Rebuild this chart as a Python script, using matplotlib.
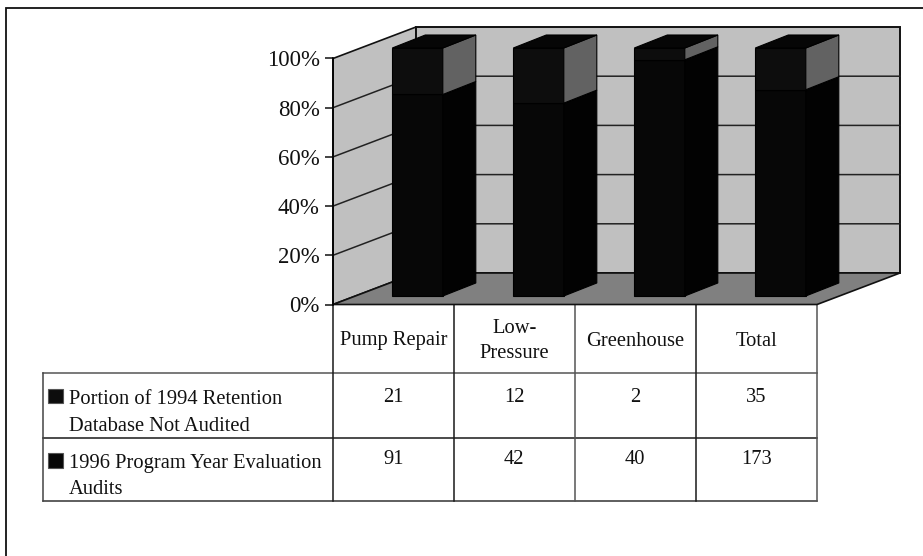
import matplotlib
matplotlib.use("Agg")
import matplotlib.pyplot as plt
from matplotlib.patches import Polygon, Rectangle

plt.rcParams['font.family'] = ['Liberation Serif', 'DejaVu Serif']

categories = ["Pump Repair", "Low-\nPressure", "Greenhouse", "Total"]
series_names = ["Portion of 1994 Retention\nDatabase Not Audited",
                "1996 Program Year Evaluation\nAudits"]
not_audited = [21, 12, 2, 35]
evaluated = [91, 42, 40, 173]
pct_ticks = [0, 20, 40, 60, 80, 100]
pct_labels = ["0%", "20%", "40%", "60%", "80%", "100%"]

W, H = 923, 556
fig = plt.figure(figsize=(W / 100, H / 100), dpi=100, facecolor="white")

# page-level axes in pixels: frame and table
page = fig.add_axes([0, 0, 1, 1])
page.set_xlim(0, W); page.set_ylim(H, 0); page.axis("off")

# chart axes: plane of the front of the floor
x0, x1, y0, y1 = 333, 817, 304.5, 58.5
ax = fig.add_axes([x0 / W, 1 - y0 / H, (x1 - x0) / W, (y0 - y1) / H])
ax.set_xlim(0, len(categories)); ax.set_ylim(0, 100)
ax.patch.set_alpha(0)
for s in ("top", "right", "bottom"):
    ax.spines[s].set_visible(False)
ax.spines["left"].set_linewidth(1.2)
ax.set_xticks([])
ax.set_yticks(pct_ticks)
ax.set_yticklabels(pct_labels, fontsize=16.5, color="#111111")
ax.tick_params(axis="y", length=5.5, width=1.1, pad=4, color="#111111")

px_x = (x1 - x0) / len(categories)   # pixels per category
px_y = (y0 - y1) / 100               # pixels per percent
DX, DY = 83 / px_x, 31.5 / px_y      # wall depth in data units

WALL, FLOOR, EDGE = "#c0c0c0", "#808080", "#111111"
ax.add_patch(Polygon([(0, 0), (DX, DY), (DX, 100 + DY), (0, 100)], closed=True,
                     fc=WALL, ec=EDGE, lw=1.2, clip_on=False, zorder=1))
ax.add_patch(Polygon([(DX, DY), (4 + DX, DY), (4 + DX, 100 + DY), (DX, 100 + DY)], closed=True,
                     fc=WALL, ec=EDGE, lw=1.4, clip_on=False, zorder=1))
ax.add_patch(Polygon([(0, 0), (4, 0), (4 + DX, DY), (DX, DY)], closed=True,
                     fc=FLOOR, ec=EDGE, lw=1.2, clip_on=False, zorder=1))
for t in pct_ticks[1:-1]:
    ax.plot([0, DX, 4 + DX], [t, t + DY, t + DY], color="#222222", lw=1.1,
            clip_on=False, zorder=2, solid_joinstyle="miter")

# bars
bw = 50.5 / px_x          # front width
inset = 59.3 / px_x       # left edge of a bar inside its category
bdx, bdy = 33 / px_x, 13 / px_y    # bar depth
b0 = 8.5 / px_y           # bar lift from the floor front edge
span = (296 - 48) / px_y  # bar height at 100 %

def box(left, low, high, front, side, top=None):
    r = left + bw
    ax.add_patch(Polygon([(left, low), (r, low), (r, high), (left, high)], closed=True,
                         fc=front, ec="#000000", lw=0.8, clip_on=False, zorder=3))
    ax.add_patch(Polygon([(r, low), (r + bdx, low + bdy), (r + bdx, high + bdy), (r, high)],
                         closed=True, fc=side, ec="#000000", lw=0.8, clip_on=False, zorder=3))
    if top:
        ax.add_patch(Polygon([(left, high), (r, high), (r + bdx, high + bdy), (left + bdx, high + bdy)],
                             closed=True, fc=top, ec="#000000", lw=0.8, clip_on=False, zorder=3))

for i, (a, b) in enumerate(zip(evaluated, not_audited)):
    left = i + inset
    split = b0 + span * a / (a + b)
    box(left, b0, split, "#070707", "#020202")
    box(left, split, b0 + span, "#0d0d0d", "#626262", "#060606")

# frame: only the left and top edges show
page.plot([5.5, 5.5, W], [H, 8, 8], color="#111111", lw=1.3, solid_joinstyle="miter")

# table
col_x = [333, 453.5, 575, 695.5, 817]
col_c = ["#1a1a1a", "#1a1a1a", "#555555", "#1a1a1a", "#555555"]
row_y = [305, 373, 438, 500.5]
row_c = [None, "#555555", "#1a1a1a", "#333333"]
for y, c in zip(row_y[1:], row_c[1:]):
    page.plot([43, 817], [y, y], color=c, lw=1.1)
page.plot([43, 43], [row_y[1], row_y[3]], color="#444444", lw=1.1)
for x, c in zip(col_x, col_c):
    page.plot([x, x], [row_y[0], row_y[3]], color=c, lw=1.1)

FS = 14.8
LS = 1.52
TC = "#111111"
for i, c in enumerate(categories):
    page.text((col_x[i] + col_x[i + 1]) / 2, 341, c, ha="center", va="center",
              fontsize=FS, color=TC, linespacing=LS - 0.06)
for vals, ty in zip((not_audited, evaluated), (397, 460)):
    for i, v in enumerate(vals):
        page.text((col_x[i] + col_x[i + 1]) / 2, ty, str(v), ha="center", va="center",
                  fontsize=FS, color=TC)
for name, ty in zip(series_names, (413, 476.5)):
    page.text(69, ty, name, ha="left", va="center", fontsize=FS, color=TC, linespacing=LS)
page.add_patch(Rectangle((48, 388.5), 14.5, 14.5, fc="#0d0d0d", ec="#555555", lw=0.8))
page.add_patch(Rectangle((48, 453), 14.5, 14.5, fc="#070707", ec="#555555", lw=0.8))

fig.savefig("out.png", dpi=100, facecolor="white")
